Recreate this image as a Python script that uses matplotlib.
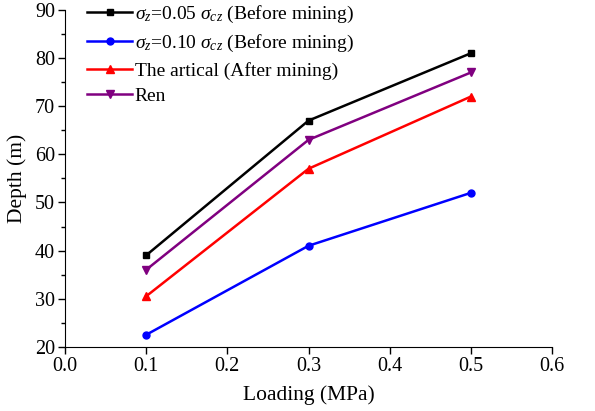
import matplotlib.pyplot as plt
from matplotlib.ticker import MultipleLocator

# data
loading = [0.1, 0.3, 0.5]
depth_005 = [39, 67, 81]
depth_010 = [22.5, 41, 52]
depth_article = [30.5, 57, 72]
depth_ren = [36, 63, 77]

plt.rcParams["font.family"] = ["Liberation Serif", "DejaVu Serif"]
plt.rcParams["mathtext.fontset"] = "custom"
plt.rcParams["mathtext.rm"] = "Liberation Serif"
plt.rcParams["mathtext.it"] = "Liberation Serif:italic"

fig = plt.figure(figsize=(5.95, 4.11), dpi=100)
ax = fig.add_axes([0.109, 0.156, 0.819, 0.82])

ax.plot(loading, depth_005, color="black", marker="s", markersize=5, lw=1.8,
        label=r"$\sigma_z$=0.05 $\sigma_{cz}$ (Before mining)")
ax.plot(loading, depth_010, color="blue", marker="o", markersize=5, lw=1.8,
        label=r"$\sigma_z$=0.10 $\sigma_{cz}$ (Before mining)")
ax.plot(loading, depth_article, color="red", marker="^", markersize=6, lw=1.8,
        label="The artical (After mining)")
ax.plot(loading, depth_ren, color="purple", marker="v", markersize=6, lw=1.8,
        label="Ren")

ax.set_xlim(0, 0.6)
ax.set_ylim(20, 90)
ax.xaxis.set_major_locator(MultipleLocator(0.1))
ax.yaxis.set_major_locator(MultipleLocator(10))
ax.yaxis.set_minor_locator(MultipleLocator(5))
ax.xaxis.set_major_formatter(plt.FormatStrFormatter("%.1f"))
ax.tick_params(direction="out", labelsize=14.5, length=5, width=1, pad=2)
ax.tick_params(which="minor", direction="out", length=3, width=1)
ax.spines["top"].set_visible(False)
ax.spines["right"].set_visible(False)

ax.set_xlabel("Loading (MPa)", fontsize=15.5, labelpad=7)
ax.set_ylabel("Depth (m)", fontsize=15.5, labelpad=6)

ax.legend(loc="upper left", bbox_to_anchor=(0.01, 1.07), frameon=False,
          fontsize=14, handlelength=2.3, handletextpad=0.15, labelspacing=0.4)

fig.savefig("out.png", dpi=100)
